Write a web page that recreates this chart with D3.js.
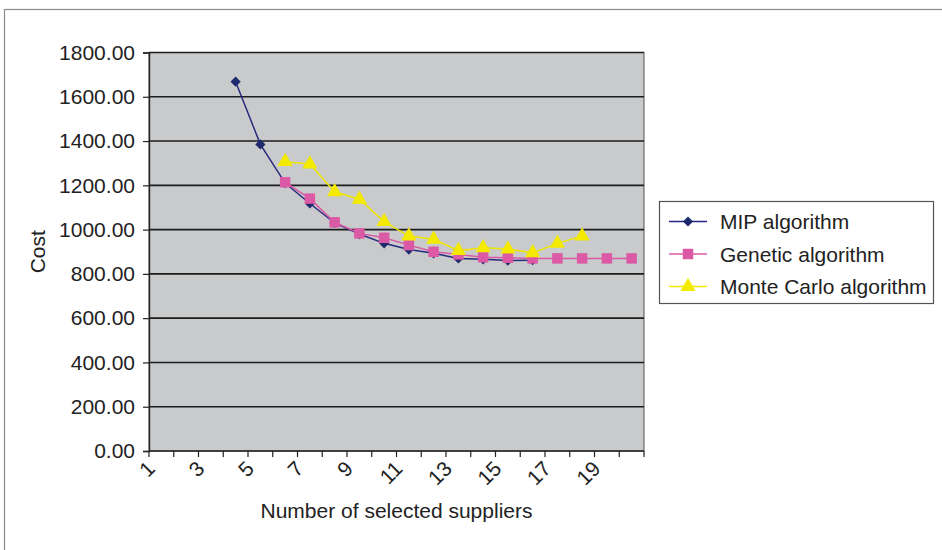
<!DOCTYPE html>
<html>
<head>
<meta charset="utf-8">
<script src="https://cdn.jsdelivr.net/npm/d3@7"></script>
<style>
  html, body { margin: 0; padding: 0; background: #fff; }
  svg { display: block; font-family: "Liberation Sans", Arial, sans-serif; }
</style>
</head>
<body>
<svg id="chart" width="942" height="550"></svg>
<script>
const categories = [1,2,3,4,5,6,7,8,9,10,11,12,13,14,15,16,17,18,19,20];
const tickLabels = [1,3,5,7,9,11,13,15,17,19];
const seriesNames = ["MIP algorithm", "Genetic algorithm", "Monte Carlo algorithm"];
const mipValues = [null,null,null,1668,1385,1210,1118,1030,980,938,910,893,870,866,860,862,null,null,null,null];
const geneticValues = [null,null,null,null,null,1214,1140,1033,983,963,930,900,888,875,873,870,870,870,870,870];
const monteCarloValues = [null,null,null,null,null,1307,1296,1171,1137,1036,971,956,905,918,912,895,938,971,null,null];
const yTicks = [0,200,400,600,800,1000,1200,1400,1600,1800];

const svg = d3.select("#chart");
const W = 942, H = 550;
const FS = 21;
const plot = {left: 149, right: 644, top: 52.5, bottom: 451};

// outer chart border
svg.append("rect").attr("x", 4.5).attr("y", 9.5).attr("width", W + 10).attr("height", H + 10)
  .attr("fill", "#fff").attr("stroke", "#8a8a8a").attr("stroke-width", 1.2);

const x = d3.scaleBand().domain(categories).range([plot.left, plot.right]).padding(0);
const y = d3.scaleLinear().domain([0, 1800]).range([plot.bottom, plot.top]);

// plot background
svg.append("rect").attr("x", plot.left).attr("y", plot.top)
  .attr("width", plot.right - plot.left).attr("height", plot.bottom - plot.top)
  .attr("fill", "#c9cacc").attr("stroke", "#555").attr("stroke-width", 1);

// gridlines
svg.append("g").selectAll("line").data(yTicks.filter(d => d > 0)).join("line")
  .attr("x1", plot.left).attr("x2", plot.right)
  .attr("y1", d => y(d)).attr("y2", d => y(d))
  .attr("stroke", "#1c1c1c").attr("stroke-width", 1.6);

// y axis
const yAxis = svg.append("g").attr("transform", `translate(${plot.left},0)`)
  .call(d3.axisLeft(y).tickValues(yTicks).tickFormat(d3.format(".2f")).tickSize(6).tickPadding(8));
yAxis.select(".domain").attr("stroke", "#222").attr("stroke-width", 1.4);
yAxis.selectAll(".tick line").attr("stroke", "#222").attr("stroke-width", 1.2);
yAxis.selectAll("text").attr("font-size", FS).attr("fill", "#222")
  .attr("font-family", "'Liberation Sans', Arial, sans-serif");

// x axis
const xAxis = svg.append("g").attr("transform", `translate(0,${plot.bottom})`);
xAxis.append("line").attr("x1", plot.left).attr("x2", plot.right).attr("y1", 0).attr("y2", 0)
  .attr("stroke", "#222").attr("stroke-width", 1.4);
const bounds = categories.map(c => x(c)).concat([x(categories[categories.length - 1]) + x.bandwidth()]);
xAxis.selectAll("line.tk").data(bounds).join("line").attr("class", "tk")
  .attr("x1", d => d).attr("x2", d => d).attr("y1", 0).attr("y2", 6)
  .attr("stroke", "#222").attr("stroke-width", 1.2);
xAxis.selectAll("text").data(tickLabels).join("text")
  .attr("transform", d => `translate(${x(d) + x.bandwidth() / 2 - 5},${19}) rotate(-45)`)
  .attr("text-anchor", "end")
  .attr("font-size", FS).attr("fill", "#222")
  .text(d => d);

// series
const series = [
  {name: seriesNames[0], values: mipValues, color: "#262a7c", marker: "diamond", mfill: "#1f2a6e"},
  {name: seriesNames[1], values: geneticValues, color: "#dc5aa5", marker: "square", mfill: "#dc5aa5"},
  {name: seriesNames[2], values: monteCarloValues, color: "#f0e600", marker: "triangle", mfill: "#f3ea00"}
];
const symbolFor = {
  diamond: d3.symbol().type(d3.symbolSquare).size(52),
  square: d3.symbol().type(d3.symbolSquare).size(110),
  triangle: d3.symbol().type(d3.symbolTriangle).size(100)
};
const rot = {diamond: 45, square: 0, triangle: 0};
const line = d3.line().defined(d => d.v != null).x(d => x(d.c) + x.bandwidth() / 2).y(d => y(d.v));

series.forEach(s => {
  const pts = categories.map((c, i) => ({c, v: s.values[i]}));
  const g = svg.append("g");
  g.append("path").datum(pts).attr("d", line).attr("fill", "none")
    .attr("stroke", s.color).attr("stroke-width", 1.5);
  g.selectAll("path.m").data(pts.filter(d => d.v != null)).join("path").attr("class", "m")
    .attr("d", symbolFor[s.marker])
    .attr("transform", d => `translate(${x(d.c) + x.bandwidth() / 2},${y(d.v)}) rotate(${rot[s.marker]})`)
    .attr("fill", s.mfill);
});

// axis titles
svg.append("text").attr("x", (plot.left + plot.right) / 2).attr("y", 518)
  .attr("text-anchor", "middle").attr("font-size", FS).attr("fill", "#222")
  .text("Number of selected suppliers");
svg.append("text").attr("transform", `translate(45,${(plot.top + plot.bottom) / 2}) rotate(-90)`)
  .attr("text-anchor", "middle").attr("font-size", FS).attr("fill", "#222")
  .text("Cost");

// legend
const lg = svg.append("g");
lg.append("rect").attr("x", 659.5).attr("y", 201.5).attr("width", 274).attr("height", 102)
  .attr("fill", "#fff").attr("stroke", "#555").attr("stroke-width", 1.2);
const rowY = [221.5, 254, 286.5];
series.forEach((s, i) => {
  lg.append("line").attr("x1", 669).attr("x2", 707).attr("y1", rowY[i]).attr("y2", rowY[i])
    .attr("stroke", s.color).attr("stroke-width", 1.5);
  lg.append("path").attr("d", symbolFor[s.marker])
    .attr("transform", `translate(688,${rowY[i]}) rotate(${rot[s.marker]})`).attr("fill", s.mfill);
  lg.append("text").attr("x", 720).attr("y", rowY[i]).attr("dy", "0.36em")
    .attr("font-size", FS).attr("fill", "#222").text(s.name);
});
</script>
</body>
</html>
